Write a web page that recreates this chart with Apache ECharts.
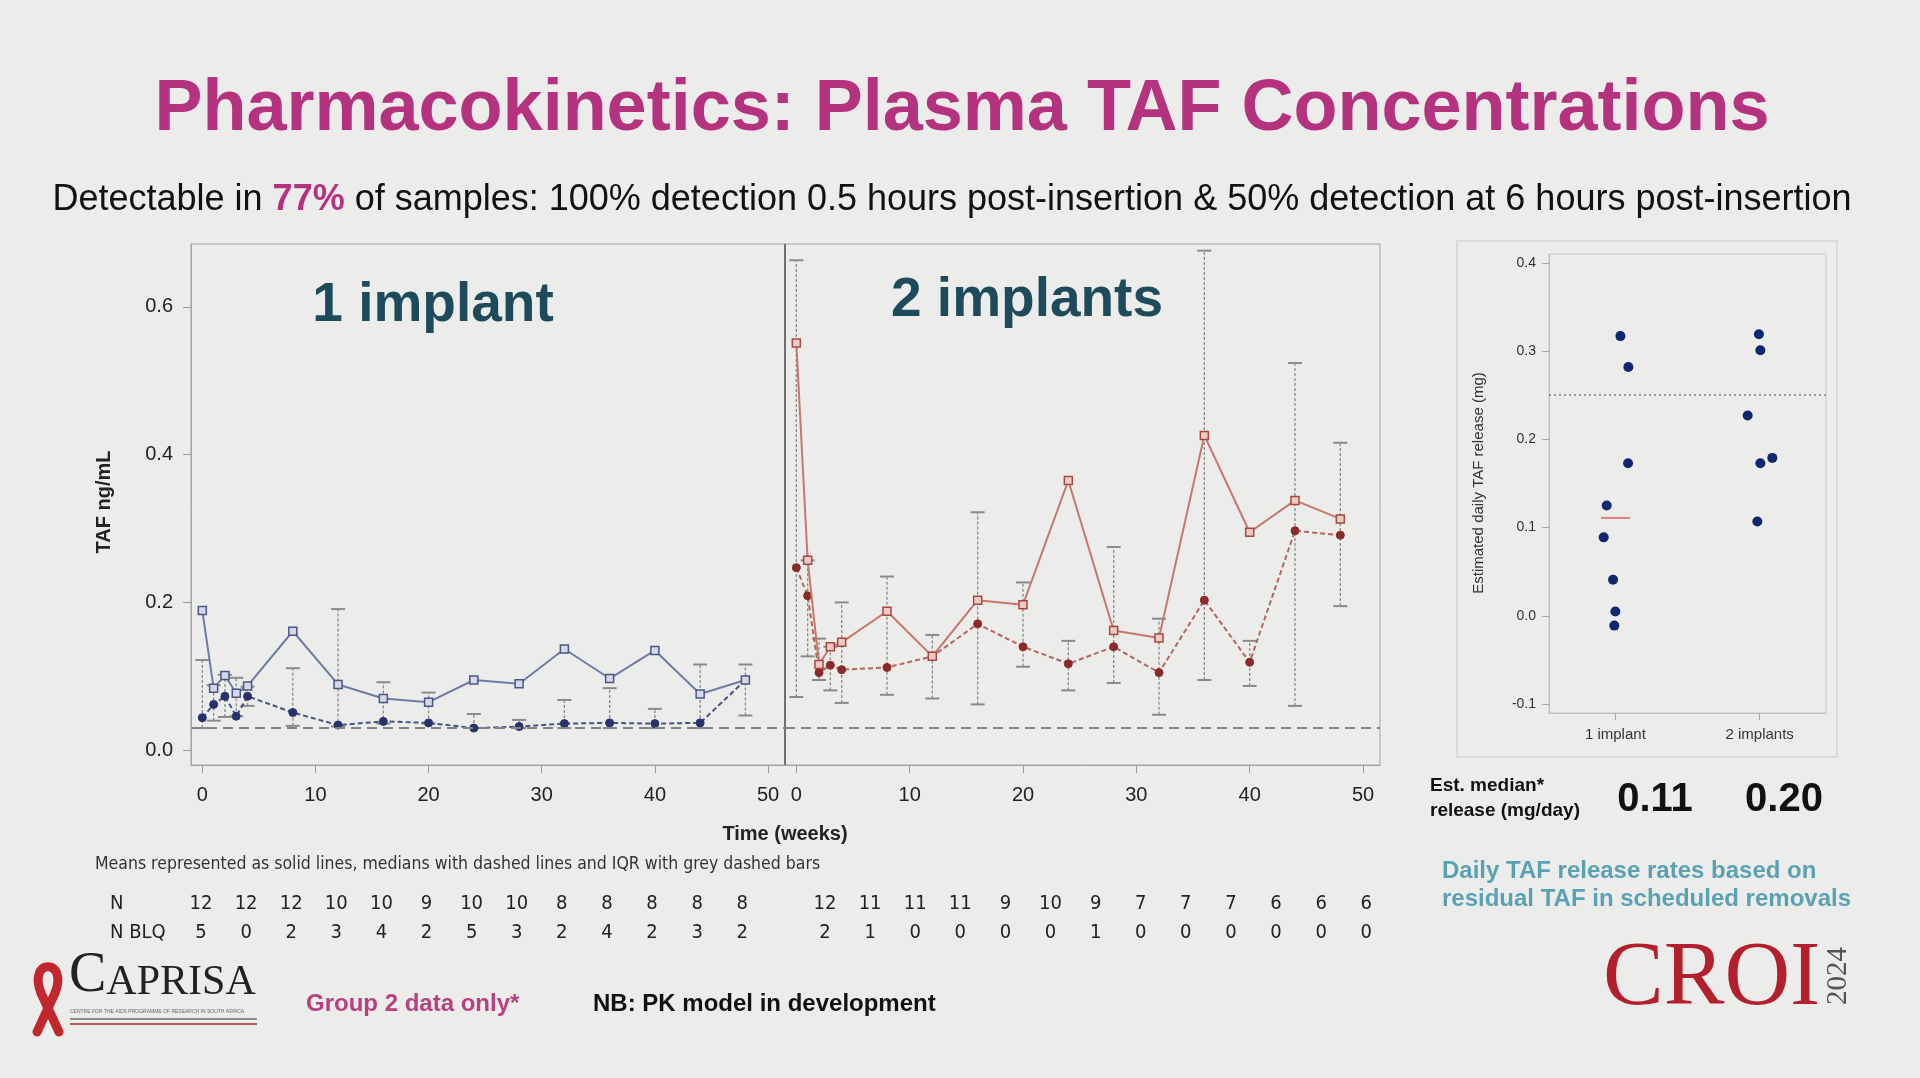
<!DOCTYPE html>
<html><head><meta charset="utf-8">
<script src="https://cdn.jsdelivr.net/npm/echarts@6/dist/echarts.min.js"></script>
<style>html,body{margin:0;padding:0;background:#ECEDEA;}#c{width:1920px;height:1078px;}</style>
</head><body><div id="c"></div>
<script>
// ---------- DATA ----------
const weeks = [0,1,2,3,4,8,12,16,20,24,28,32,36,40,44,48];
// 1 implant
const mean1   = [0.189,0.084,0.101,0.077,0.087,0.161,0.089,0.070,0.065,0.095,0.090,0.137,0.097,0.135,0.076,0.095];
const median1 = [0.044,0.062,0.073,0.046,0.073,0.051,0.034,0.039,0.037,0.030,0.032,0.036,0.037,0.036,0.037,0.095];
const iqrLow1 = [0.030,0.040,0.045,0.046,0.060,0.033,0.032,0.036,0.036,0.030,0.030,0.030,0.030,0.030,0.030,0.047];
const iqrHigh1= [0.122,0.088,0.102,0.098,0.086,0.111,0.191,0.092,0.078,0.049,0.041,0.068,0.084,0.056,0.116,0.116];
// 2 implants
const mean2   = [0.551,0.257,0.116,0.140,0.146,0.188,0.127,0.203,0.197,0.365,0.162,0.152,0.426,0.295,0.338,0.313];
const median2 = [0.247,0.209,0.105,0.115,0.109,0.112,0.127,0.171,0.140,0.117,0.140,0.105,0.203,0.119,0.297,0.291];
const iqrLow2 = [0.072,0.127,0.095,0.081,0.064,0.075,0.070,0.062,0.113,0.081,0.091,0.048,0.095,0.087,0.060,0.195];
const iqrHigh2= [0.663,0.257,0.151,0.140,0.200,0.235,0.156,0.322,0.227,0.148,0.275,0.178,0.676,0.148,0.524,0.416];
const lloq = 0.03;
const xTicks = [0,10,20,30,40,50];
const yTicks = [0,0.2,0.4,0.6];
// N table
const nCounts1 = [12,12,12,10,10,9,10,10,8,8,8,8,8];
const nBlq1    = [5,0,2,3,4,2,5,3,2,4,2,3,2];
const nCounts2 = [12,11,11,11,9,10,9,7,7,7,6,6,6];
const nBlq2    = [2,1,0,0,0,0,1,0,0,0,0,0,0];
// Release scatter
const scatterCats = ['1 implant','2 implants'];
const scatterX1 = [1.035,1.09,1.088,0.94,0.919,0.984,1.0,0.993];
const scatterY1 = [0.317,0.282,0.173,0.125,0.089,0.041,0.005,-0.011];
const scatterX2 = [1.995,2.005,1.917,2.005,2.088,1.984];
const scatterY2 = [0.319,0.301,0.227,0.173,0.179,0.107];
const scatterTicksY = [-0.1,0,0.1,0.2,0.3,0.4];
const medianRelease1 = 0.111;
const releaseThreshold = 0.25;
const estMedians = ['0.11','0.20'];

// ---------- CHART ----------
const FONT = 'Liberation Sans, Arial, sans-serif';
const NARROW = "'Liberation Sans Narrow', 'DejaVu Sans Condensed', sans-serif";
const chart = echarts.init(document.getElementById('c'));
const pairs = (xs, ys) => xs.map((x,i)=>[x, ys[i]]);

function iqrSeries(idx, lows, highs){
  return {
    type:'custom', xAxisIndex:idx, yAxisIndex:idx, z:1, silent:true,
    data: weeks.map((w,i)=>[w, lows[i], highs[i]]),
    encode:{x:0, y:[1,2]},
    renderItem(params, api){
      const lo = api.coord([api.value(0), api.value(1)]);
      const hi = api.coord([api.value(0), api.value(2)]);
      const hw = 7, c = '#8a8a8a';
      return {type:'group', children:[
        {type:'line', shape:{x1:lo[0],y1:lo[1],x2:hi[0],y2:hi[1]}, style:{stroke:c,lineWidth:1.3,lineDash:[3,2]}},
        {type:'line', shape:{x1:lo[0]-hw,y1:lo[1],x2:lo[0]+hw,y2:lo[1]}, style:{stroke:c,lineWidth:2}},
        {type:'line', shape:{x1:hi[0]-hw,y1:hi[1],x2:hi[0]+hw,y2:hi[1]}, style:{stroke:c,lineWidth:2}}
      ]};
    }
  };
}
function meanSeries(idx, vals, line, fill, border){
  return {type:'line', xAxisIndex:idx, yAxisIndex:idx, z:4, silent:true,
    data:pairs(weeks, vals), symbol:'rect', symbolSize:8,
    lineStyle:{color:line, width:2}, itemStyle:{color:fill, borderColor:border, borderWidth:1.5}};
}
function medianSeries(idx, vals, line, dot){
  return {type:'line', xAxisIndex:idx, yAxisIndex:idx, z:3, silent:true,
    data:pairs(weeks, vals), symbol:'circle', symbolSize:8,
    lineStyle:{color:line, width:2, type:[5,3]}, itemStyle:{color:dot, borderColor:dot},
    markLine:{silent:true, symbol:'none', label:{show:false}, animation:false,
      lineStyle:{color:'#858585', width:2, type:[10,6]}, data:[{yAxis:lloq}]}};
}
function mainX(idx){
  return {gridIndex:idx, type:'value', min:-1, max:51.5,
    axisLine:{show:true, onZero:false, lineStyle:{color:'#a3a3a3'}},
    axisTick:{show:true, customValues:xTicks, length:8, lineStyle:{color:'#999'}},
    axisLabel:{customValues:xTicks, fontSize:20, color:'#222', margin:20, fontFamily:FONT},
    splitLine:{show:false}};
}
function mainY(idx, showLabels){
  return {gridIndex:idx, type:'value', min:-0.02, max:0.685,
    axisLine:{show:true, onZero:false, lineStyle:{color:'#a3a3a3'}},
    axisTick:{show:showLabels, customValues:yTicks, length:8, lineStyle:{color:'#999'}},
    axisLabel:{show:showLabels, customValues:yTicks, formatter:v=>v.toFixed(1), fontSize:20, color:'#222', margin:18, fontFamily:FONT},
    splitLine:{show:false}};
}

function txt(text, x, y, o){
  o = o || {};
  return {type:'text', x:x, y:y, rotation:o.rot||0, silent:true, z:10,
    style:Object.assign({text:text, textAlign:o.align||'center', textVerticalAlign:o.va||'middle',
      fontSize:o.size||20, fontWeight:o.weight||'normal', fontFamily:o.family||FONT, fill:o.color||'#111'}, o.extra||{})};
}

const graphics = [];
graphics.push(txt('Pharmacokinetics: Plasma TAF Concentrations', 962, 110, {size:72, weight:'bold', color:'#B4327E'}));
graphics.push({type:'text', x:952, y:200, silent:true, style:{
  text:'{a|Detectable in }{b|77%}{a| of samples: 100% detection 0.5 hours post-insertion & 50% detection at 6 hours post-insertion}',
  textAlign:'center', textVerticalAlign:'middle', fontFamily:FONT, fontSize:36,
  rich:{a:{fontSize:36, fontFamily:FONT, fill:'#111'}, b:{fontSize:36, fontFamily:FONT, fontWeight:'bold', fill:'#B4327E'}}}});
graphics.push(txt('1 implant', 433, 306, {size:55, weight:'bold', color:'#1E4B5C'}));
graphics.push(txt('2 implants', 1027, 301, {size:55, weight:'bold', color:'#1E4B5C'}));
graphics.push(txt('TAF ng/mL', 104, 502, {size:20, weight:'bold', color:'#222', rot:Math.PI/2}));
graphics.push(txt('Time (weeks)', 785, 834, {size:20, weight:'bold', color:'#222'}));
graphics.push(txt('Means represented as solid lines, medians with dashed lines and IQR with grey dashed bars', 95, 864, {size:17.5, align:'left', family:NARROW, color:'#333'}));
// N table
graphics.push(txt('N', 110, 904, {size:20, align:'left', family:NARROW, color:'#222'}));
graphics.push(txt('N BLQ', 110, 933, {size:20, align:'left', family:NARROW, color:'#222'}));
const tabStep = 45.1;
nCounts1.forEach((v,i)=>graphics.push(txt(String(v), 201+i*tabStep, 904, {size:20, family:NARROW, color:'#222'})));
nBlq1.forEach((v,i)=>graphics.push(txt(String(v), 201+i*tabStep, 933, {size:20, family:NARROW, color:'#222'})));
nCounts2.forEach((v,i)=>graphics.push(txt(String(v), 825+i*tabStep, 904, {size:20, family:NARROW, color:'#222'})));
nBlq2.forEach((v,i)=>graphics.push(txt(String(v), 825+i*tabStep, 933, {size:20, family:NARROW, color:'#222'})));
// separator between panels
graphics.push({type:'line', silent:true, z:5, shape:{x1:785,y1:244,x2:785,y2:765}, style:{stroke:'#6f6f6f', lineWidth:2}});
// scatter frame & labels
graphics.push({type:'rect', silent:true, z:0, shape:{x:1457,y:241,width:380,height:516}, style:{fill:'none', stroke:'#d3d3d3', lineWidth:1.5}});
graphics.push(txt('Estimated daily TAF release (mg)', 1479, 483, {size:15, color:'#333', rot:Math.PI/2}));
graphics.push(txt('Est. median*', 1430, 786, {size:19, weight:'bold', align:'left', color:'#111'}));
graphics.push(txt('release (mg/day)', 1430, 811, {size:19, weight:'bold', align:'left', color:'#111'}));
graphics.push(txt(estMedians[0], 1655, 800, {size:40, weight:'bold', color:'#111'}));
graphics.push(txt(estMedians[1], 1784, 800, {size:40, weight:'bold', color:'#111'}));
graphics.push(txt('Daily TAF release rates based on', 1442, 871, {size:24, weight:'bold', align:'left', color:'#5AA2B3'}));
graphics.push(txt('residual TAF in scheduled removals', 1442, 899, {size:24, weight:'bold', align:'left', color:'#5AA2B3'}));
// footer
graphics.push(txt('Group 2 data only*', 306, 1004, {size:24, weight:'bold', align:'left', color:'#B8407F'}));
graphics.push(txt('NB: PK model in development', 593, 1004, {size:24, weight:'bold', align:'left', color:'#111'}));
// CAPRISA logo (ribbon)
const ribbonStyle = {stroke:'#C1272D', lineWidth:9, lineCap:'round', fill:'none'};
graphics.push({type:'bezierCurve', silent:true, shape:{x1:55,y1:993,cpx1:69,cpy1:958,cpx2:27,cpy2:958,x2:41,y2:993}, style:ribbonStyle});
graphics.push({type:'line', silent:true, shape:{x1:55,y1:993,x2:37,y2:1032}, style:ribbonStyle});
graphics.push({type:'line', silent:true, shape:{x1:41,y1:993,x2:59,y2:1032}, style:ribbonStyle});
graphics.push({type:'text', x:69, y:1004, silent:true, style:{text:'{c|C}{r|APRISA}', textAlign:'left', textVerticalAlign:'bottom',
  fontFamily:'Liberation Serif', rich:{c:{fontSize:56, fontFamily:'Liberation Serif', fill:'#222', verticalAlign:'bottom'},
  r:{fontSize:42, fontFamily:'Liberation Serif', fill:'#222', verticalAlign:'bottom'}}}});
graphics.push(txt('CENTRE FOR THE AIDS PROGRAMME OF RESEARCH IN SOUTH AFRICA', 70, 1012, {size:5, align:'left', color:'#666'}));
graphics.push({type:'line', silent:true, shape:{x1:70,y1:1019,x2:257,y2:1019}, style:{stroke:'#6b6b6b', lineWidth:1.5}});
graphics.push({type:'line', silent:true, shape:{x1:70,y1:1024,x2:257,y2:1024}, style:{stroke:'#B05A5A', lineWidth:2}});
// CROI logo
graphics.push(txt('CROI', 1603, 980, {size:91, align:'left', family:'Liberation Serif', color:'#B31F2D'}));
graphics.push(txt('2024', 1838, 976, {size:29, family:'Liberation Serif', color:'#555', rot:Math.PI/2}));

const option = {
  backgroundColor:'#ECEDEA',
  animation:false,
  grid:[
    {left:191, top:244, width:594, height:521, show:true, borderColor:'#a3a3a3', borderWidth:1},
    {left:785, top:244, width:595, height:521, show:true, borderColor:'#a3a3a3', borderWidth:1},
    {left:1549, top:254, width:277, height:459, show:true, borderColor:'#c6c6c6', borderWidth:1}
  ],
  xAxis:[ mainX(0), mainX(1),
    {gridIndex:2, type:'value', min:0.54, max:2.46,
      axisLine:{show:true, onZero:false, lineStyle:{color:'#bdbdbd'}},
      axisTick:{show:true, customValues:[1,2], length:7, lineStyle:{color:'#aaa'}},
      axisLabel:{customValues:[1,2], formatter:v=>scatterCats[Math.round(v)-1], fontSize:15, color:'#333', margin:14, fontFamily:FONT},
      splitLine:{show:false}}
  ],
  yAxis:[ mainY(0,true), mainY(1,false),
    {gridIndex:2, type:'value', min:-0.11, max:0.41,
      axisLine:{show:true, onZero:false, lineStyle:{color:'#bdbdbd'}},
      axisTick:{show:true, customValues:scatterTicksY, length:7, lineStyle:{color:'#aaa'}},
      axisLabel:{customValues:scatterTicksY, formatter:v=>v.toFixed(1), fontSize:14, color:'#333', margin:13, fontFamily:FONT},
      splitLine:{show:false}}
  ],
  series:[
    iqrSeries(0, iqrLow1, iqrHigh1),
    iqrSeries(1, iqrLow2, iqrHigh2),
    medianSeries(0, median1, '#46538A', '#27316B'),
    meanSeries(0, mean1, '#6E7BA6', '#D5D9E6', '#4A5688'),
    medianSeries(1, median2, '#B8635D', '#8B2A2A'),
    meanSeries(1, mean2, '#C8756D', '#EBCBC6', '#A8473F'),
    {type:'scatter', xAxisIndex:2, yAxisIndex:2, silent:true, symbolSize:10, z:4,
      data:pairs(scatterX1, scatterY1).concat(pairs(scatterX2, scatterY2)),
      itemStyle:{color:'#0E2870', opacity:1},
      markLine:{silent:true, symbol:'none', label:{show:false}, lineStyle:{color:'#9a9a9a', width:2, type:[2,3]}, data:[{yAxis:releaseThreshold}]}},
    {type:'line', xAxisIndex:2, yAxisIndex:2, silent:true, symbol:'none', z:3,
      data:[[1-0.1, medianRelease1],[1+0.1, medianRelease1]], lineStyle:{color:'#E07C7C', width:2}}
  ],
  graphic:graphics
};
chart.setOption(option);
</script>
</body></html>
